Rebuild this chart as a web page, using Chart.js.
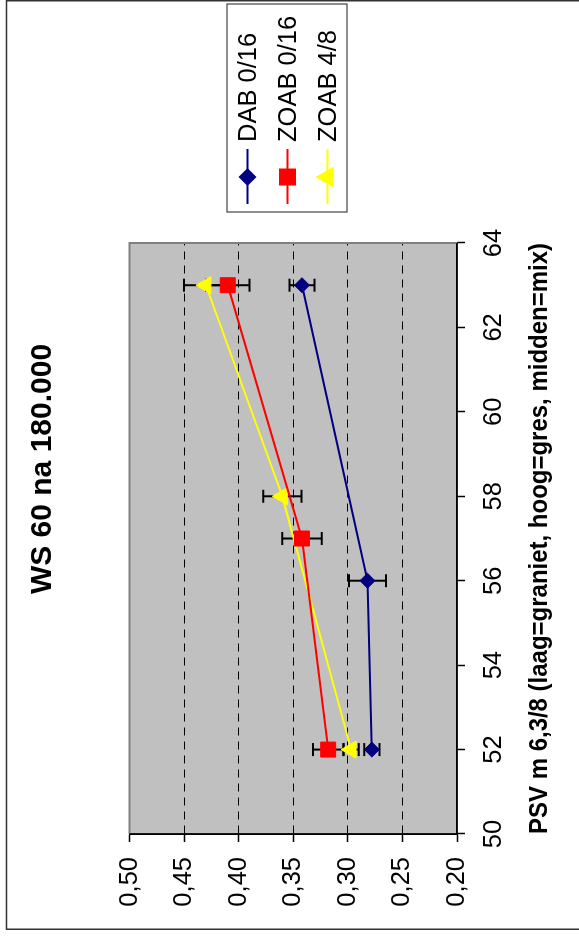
<!DOCTYPE html>
<html lang="nl">
<head>
  <meta charset="UTF-8">
  <title>WS 60 na 180.000</title>
  <script src="https://cdn.jsdelivr.net/npm/chart.js"></script>
  <style>
    html, body {
      margin: 0;
      background: #fff;
      overflow: hidden;
    }
    /* chart drawn landscape, then turned a quarter to the left like the original sheet */
    #wrap {
      position: absolute;
      left: 0;
      top: 0;
      width: 938px;
      height: 579px;
      transform-origin: 0 0;
      transform: translateY(938px) rotate(-90deg);
    }
  </style>
</head>
<body>
  <div id="wrap"><canvas id="ws60" width="938" height="579"></canvas></div>

  <script>
    const seriesNames = ['DAB 0/16', 'ZOAB 0/16', 'ZOAB 4/8'];

    const psvDab = [52, 56, 63];
    const dab = [0.278, 0.282, 0.342];
    const dabErr = [0.007, 0.017, 0.0115];

    const psvZoab016 = [52, 57, 63];
    const zoab016 = [0.318, 0.342, 0.410];
    const zoab016Err = [0.014, 0.018, 0.020];

    const psvZoab48 = [52, 58, 63];
    const zoab48 = [0.297, 0.360, 0.430];
    const zoab48Err = [0.007, 0.0175, 0.020];

    const colors = ['#000080', '#ff0000', '#ffff00'];
    const markers = ['rectRot', 'rect', 'triangle'];
    const markerSize = [7.5, 10.6, 10];

    const xs = [psvDab, psvZoab016, psvZoab48];
    const ys = [dab, zoab016, zoab48];
    const errs = [dabErr, zoab016Err, zoab48Err];

    const FONT = "'Liberation Sans', Arial, sans-serif";
    Chart.defaults.font.family = FONT;
    Chart.defaults.color = '#000';

    function pts(i) {
      return xs[i].map((x, j) => ({ x: x, y: ys[i][j] }));
    }

    // grey plot area, outer frame, error bars and the boxed legend
    const sheet = {
      id: 'sheet',
      beforeDraw(chart) {
        const { ctx, chartArea: a } = chart;
        ctx.save();
        ctx.fillStyle = '#fff';
        ctx.fillRect(0, 0, chart.width, chart.height);
        ctx.fillStyle = '#c0c0c0';
        ctx.fillRect(a.left, a.top, a.right - a.left, a.bottom - a.top);
        ctx.strokeStyle = '#333';
        ctx.lineWidth = 1.5;
        ctx.strokeRect(8.75, 6.5, chart.width - 9.5, chart.height + 20);
        ctx.restore();
      },
      beforeDatasetsDraw(chart) {
        const { ctx, chartArea: a } = chart;
        const sx = chart.scales.x, sy = chart.scales.y;
        ctx.save();
        ctx.strokeStyle = '#808080';
        ctx.lineWidth = 2;
        ctx.beginPath();
        ctx.moveTo(a.left, a.top);
        ctx.lineTo(a.right, a.top);
        ctx.lineTo(a.right, a.bottom);
        ctx.stroke();

        // the axis lines again, solid
        ctx.strokeStyle = '#000';
        ctx.lineWidth = 1.5;
        ctx.beginPath();
        ctx.moveTo(a.left, a.top);
        ctx.lineTo(a.left, a.bottom);
        ctx.lineTo(a.right, a.bottom);
        ctx.stroke();

        ctx.lineWidth = 2;
        chart.data.datasets.forEach((ds, i) => {
          ds.data.forEach((p, j) => {
            const px = sx.getPixelForValue(p.x);
            const hi = sy.getPixelForValue(p.y + errs[i][j]);
            const lo = sy.getPixelForValue(p.y - errs[i][j]);
            ctx.beginPath();
            ctx.moveTo(px, hi); ctx.lineTo(px, lo);
            ctx.moveTo(px - 6.5, hi); ctx.lineTo(px + 6.5, hi);
            ctx.moveTo(px - 6.5, lo); ctx.lineTo(px + 6.5, lo);
            ctx.stroke();
          });
        });
        ctx.restore();
      },
      afterDraw(chart) {
        const { ctx, chartArea: a } = chart;
        const left = a.right + 31, top = 227, w = 208, h = 120;
        ctx.save();
        ctx.fillStyle = '#fff';
        ctx.fillRect(left, top, w, h);
        ctx.strokeStyle = '#444';
        ctx.lineWidth = 1.2;
        ctx.strokeRect(left, top, w, h);
        ctx.font = '25.5px ' + FONT;
        ctx.textBaseline = 'middle';
        chart.data.datasets.forEach((ds, i) => {
          const cy = top + 20.5 + i * 40;
          ctx.strokeStyle = ds.borderColor;
          ctx.fillStyle = ds.borderColor;
          ctx.lineWidth = 2;
          ctx.beginPath();
          ctx.moveTo(left + 8, cy);
          ctx.lineTo(left + 63, cy);
          ctx.stroke();
          Chart.helpers.drawPoint(ctx, {
            pointStyle: ds.pointStyle, radius: ds.pointRadius, rotation: 0, borderWidth: 1
          }, left + 35, cy);
          ctx.fillStyle = '#000';
          ctx.fillText(ds.label, left + 70, cy + 1);
        });
        ctx.restore();
      }
    };

    new Chart(document.getElementById('ws60'), {
      type: 'line',
      data: {
        datasets: seriesNames.map((name, i) => ({
          label: name,
          data: pts(i),
          xAxisID: 'x',
          yAxisID: 'y',
          borderColor: colors[i],
          backgroundColor: colors[i],
          borderWidth: 2,
          pointStyle: markers[i],
          pointRadius: markerSize[i],
          pointBorderWidth: 1,
          pointBackgroundColor: colors[i],
          pointBorderColor: colors[i],
          tension: 0,
          fill: false
        }))
      },
      options: {
        responsive: false,
        animation: false,
        events: [],
        layout: { padding: 0 },
        plugins: {
          legend: { display: false },
          tooltip: { enabled: false },
          title: {
            display: true,
            text: 'WS 60 na 180.000',
            color: '#000',
            font: { size: 30, weight: 'bold' },
            padding: { top: 25, bottom: 68.5 }
          }
        },
        scales: {
          x: {
            type: 'linear',
            position: 'bottom',
            min: 50,
            max: 64,
            ticks: { stepSize: 2, font: { size: 25.5 }, color: '#000', padding: 14 },
            grid: {
              drawOnChartArea: false,
              drawTicks: true,
              tickLength: 8,
              tickColor: '#000',
              tickWidth: 1.5
            },
            border: { color: '#000', width: 1.5 },
            title: {
              display: true,
              text: 'PSV m 6,3/8 (laag=graniet, hoog=gres, midden=mix)',
              color: '#000',
              font: { size: 25.5, weight: 'bold' },
              padding: { top: 0, bottom: 24 }
            },
            afterFit(s) { s.height = 122; }
          },
          y: {
            type: 'linear',
            position: 'left',
            min: 0.2,
            max: 0.5,
            ticks: {
              stepSize: 0.05,
              font: { size: 25.5 },
              color: '#000',
              padding: 15,
              callback: v => v.toFixed(2).replace('.', ',')
            },
            grid: {
              color: c => (Math.abs(c.tick.value - 0.2) < 1e-6 || Math.abs(c.tick.value - 0.5) < 1e-6)
                ? 'rgba(0,0,0,0)' : '#000',
              lineWidth: 1,
              tickLength: 8,
              tickColor: '#000',
              tickWidth: 1.5,
              tickBorderDash: [1, 0]
            },
            border: { color: '#000', width: 1.5, dash: [8, 6] },
            afterFit(s) { s.width = 104; }
          },
          // empty strip on the right that leaves room for the legend box
          pad: {
            type: 'linear',
            position: 'right',
            display: true,
            ticks: { display: false },
            grid: { display: false },
            border: { display: false },
            afterFit(s) { s.width = 243; }
          }
        }
      },
      plugins: [sheet]
    });
  </script>
</body>
</html>
